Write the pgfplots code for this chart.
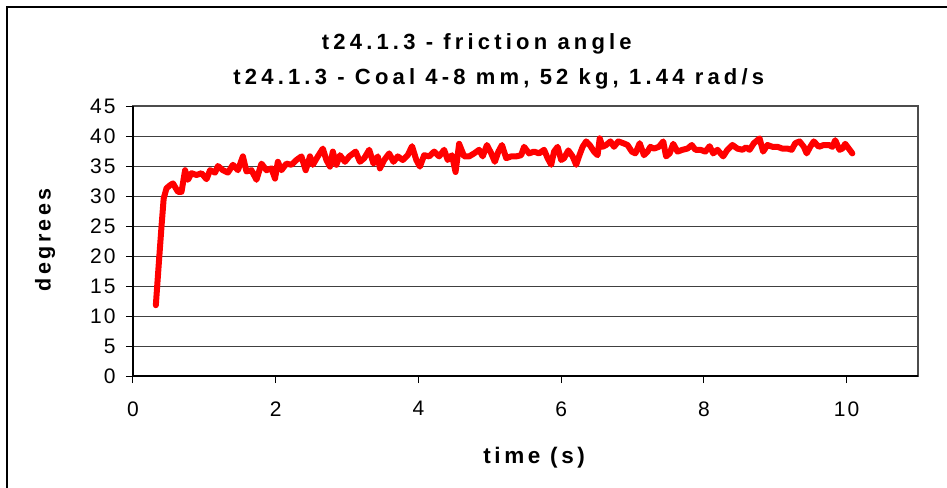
\documentclass[border=0pt]{standalone}
\usepackage{pgfplots}
\pgfplotsset{compat=1.18}
\usepackage{fontspec}
\setmainfont{Liberation Sans}
\newfontfamily\spacedfont[LetterSpace=16]{Liberation Sans}
\newfontfamily\titlefont[LetterSpace=19]{Liberation Sans}
\newfontfamily\tickfont[LetterSpace=10]{Liberation Sans}
\pgfplotstableread{
t v
0.32 11.8
0.36 18.5
0.40 25.0
0.43 29.6
0.47 31.3
0.52 31.8
0.56 32.1
0.63 30.7
0.68 30.7
0.73 34.3
0.77 32.7
0.82 33.8
0.89 33.5
0.96 33.8
1.03 32.8
1.08 34.3
1.15 33.9
1.19 35.0
1.26 34.3
1.33 33.9
1.40 35.2
1.47 34.3
1.54 36.6
1.59 34.1
1.66 34.3
1.73 32.7
1.80 35.4
1.87 34.3
1.94 34.6
1.99 32.9
2.03 35.7
2.08 34.3
2.15 35.4
2.22 35.2
2.29 36.0
2.36 36.6
2.42 34.3
2.48 36.6
2.52 35.2
2.59 36.6
2.66 37.9
2.71 36.0
2.76 34.9
2.80 37.4
2.85 35.2
2.90 36.8
2.97 35.7
3.03 36.6
3.12 37.4
3.18 35.7
3.24 36.3
3.31 37.7
3.37 35.4
3.43 36.6
3.46 34.6
3.52 36.0
3.59 37.1
3.65 35.7
3.71 36.6
3.78 36.0
3.85 36.8
3.91 38.3
3.97 36.0
4.02 34.9
4.08 36.8
4.15 36.6
4.22 37.4
4.29 36.6
4.36 37.7
4.41 36.0
4.47 36.8
4.52 34.0
4.57 38.7
4.64 36.6
4.71 36.6
4.78 37.1
4.85 37.7
4.90 36.6
4.96 38.5
5.02 37.1
5.07 35.7
5.12 37.4
5.17 38.5
5.23 36.3
5.30 36.6
5.37 36.6
5.44 36.8
5.48 38.2
5.55 37.1
5.62 37.4
5.69 37.1
5.76 37.7
5.81 36.3
5.86 35.2
5.90 37.4
5.95 38.2
6.00 36.0
6.04 36.3
6.10 37.6
6.16 36.6
6.21 35.2
6.25 36.6
6.30 38.2
6.35 39.1
6.40 38.5
6.46 37.4
6.51 36.8
6.54 39.6
6.58 38.2
6.63 38.5
6.69 39.1
6.74 38.2
6.80 39.1
6.87 38.8
6.93 38.5
6.99 37.4
7.04 37.1
7.10 38.8
7.16 36.8
7.21 37.4
7.25 38.2
7.30 37.9
7.37 38.2
7.43 39.1
7.47 36.6
7.52 37.1
7.57 38.7
7.63 37.4
7.70 37.7
7.77 37.9
7.83 38.5
7.88 37.7
7.95 37.7
8.02 37.4
8.08 38.3
8.13 37.1
8.19 37.7
8.27 36.6
8.33 37.7
8.40 38.5
8.47 37.9
8.54 37.7
8.59 38.1
8.64 37.7
8.70 38.8
8.78 39.6
8.83 37.4
8.89 38.5
8.96 38.2
9.03 38.2
9.10 37.9
9.17 37.9
9.23 37.7
9.28 38.8
9.34 39.1
9.40 38.2
9.44 37.1
9.49 38.2
9.54 39.1
9.61 38.2
9.68 38.5
9.75 38.5
9.80 38.2
9.84 39.3
9.90 37.7
9.94 37.9
9.98 38.7
10.03 37.9
10.08 37.1
}\friction
\begin{document}
\begin{tikzpicture}
\useasboundingbox (-133pt,-111pt) rectangle (814pt,376pt);
\draw[line width=1.5pt, black] (-126pt,-140pt) rectangle (860pt,369pt);
\begin{axis}[
  at={(0pt,0pt)}, anchor=south west,
  scale only axis, width=785pt, height=270pt,
  xmin=0, xmax=11, ymin=0, ymax=45,
  xtick={0,2,4,6,8,10}, ytick={0,5,...,45},
  tick pos=left, tick align=outside, major tick length=7pt,
  tick style={black, line width=1pt},
  ymajorgrids, grid style={black!75, line width=1pt},
  axis line style={black!70, line width=1.2pt},
  /pgf/number format/assume math mode=true,
  ticklabel style={font=\fontsize{21}{24}\tickfont},
  xticklabel style={yshift=-15pt},
  yticklabel style={xshift=-7pt},
  xlabel={time (s)}, ylabel={degrees},
  xlabel style={font=\fontsize{22.5}{26}\spacedfont\bfseries, at={(axis description cs:0.511,-0.304)}, anchor=center},
  ylabel style={font=\fontsize{21.5}{26}\spacedfont\bfseries, at={(axis description cs:-0.112,0.504)}, anchor=center, rotate=0},
  clip=false,
]
\draw[black, line width=1.8pt] (axis cs:0,45) -- (axis cs:0,0) -- (axis cs:11,0);
\addplot[red, line width=6pt, line join=round, line cap=round] table[x=t, y=v] {\friction};
\node[font=\fontsize{22}{26}\titlefont\bfseries] at (axis description cs:0.438,1.230) {t24.1.3 - friction angle};
\node[font=\fontsize{22}{26}\titlefont\bfseries] at (axis description cs:0.466,1.101) {t24.1.3 - Coal 4-8 mm, 52 kg, 1.44 rad/s};
\end{axis}
\end{tikzpicture}
\end{document}
